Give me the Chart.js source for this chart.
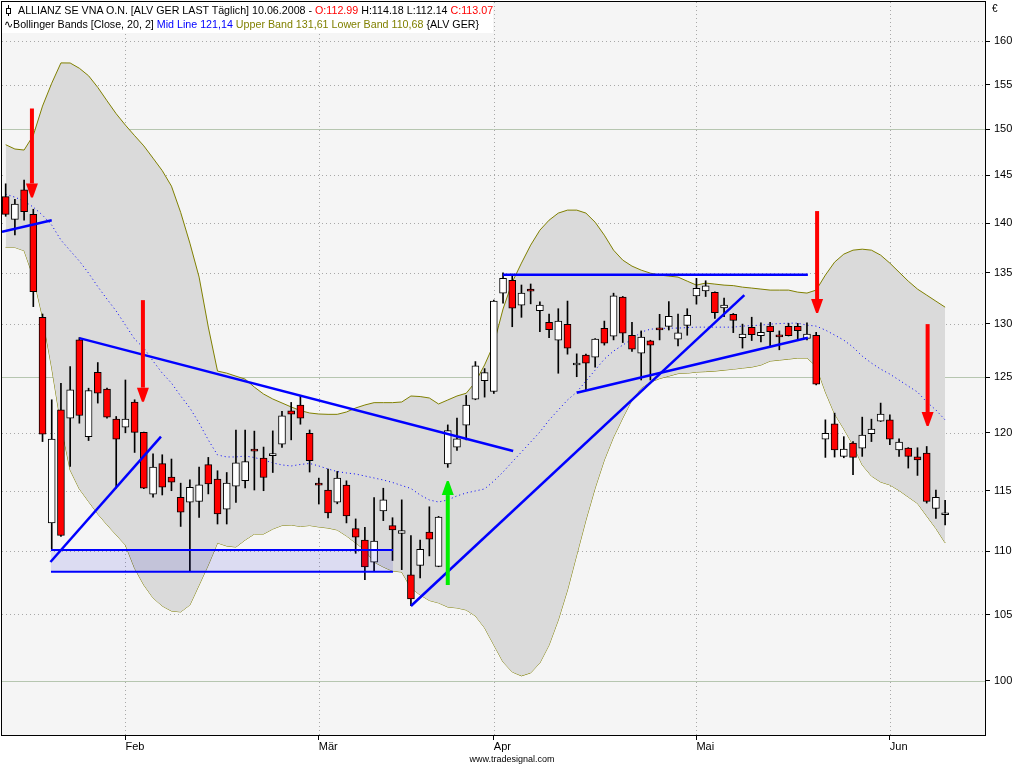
<!DOCTYPE html>
<html>
<head>
<meta charset="utf-8">
<script src="https://cdn.jsdelivr.net/npm/chart.js@4.4.1/dist/chart.umd.min.js"></script>
<style>
html, body { margin: 0; padding: 0; background: #fff; }
#wrap { position: relative; width: 1024px; height: 768px; overflow: hidden; }
#c { position: absolute; left: 0; top: 0; }
#hdr { position: absolute; left: 2px; top: 2px; width: 491px; height: 31px; background: #fff;
       font: 10.7px "Liberation Sans", Arial, sans-serif; line-height: 15px; white-space: nowrap; color: #000; }
#hdr .l1 { position: absolute; left: 16px; top: 1px; }
#hdr .l2 { position: absolute; left: 2px; top: 15px; }
#hdr .r { color: #ff0000; }
#hdr .b { color: #0000ff; }
#hdr .o { color: #808000; }
.ico { position: absolute; left: 3px; top: 3px; width: 7px; height: 11px; }
.ico:before { content: ""; position: absolute; left: 3px; top: 0; width: 1px; height: 11px; background: #000; }
.ico:after { content: ""; position: absolute; left: 1px; top: 3px; width: 3px; height: 4px; border: 1px solid #000; background: #fff; }
#eur { position: absolute; left: 992px; top: 3px; font: 10px "Liberation Sans", Arial, sans-serif; }
#foot { position: absolute; left: 0; width: 1024px; top: 754px; text-align: center;
        font: 9px "Liberation Sans", Arial, sans-serif; color: #000; }
</style>
</head>
<body>
<div id="wrap">
  <canvas id="c" width="1024" height="768"></canvas>
  <div id="hdr">
    <span class="ico"></span>
    <div class="l1">ALLIANZ SE VNA O.N. [ALV GER LAST Täglich] 10.06.2008 - <span class="r">O:112.99</span> H:114.18 L:112.14 <span class="r">C:113.07</span></div>
    <div class="l2">∿Bollinger Bands [Close, 20, 2] <span class="b">Mid Line 121,14</span> <span class="o">Upper Band 131,61 Lower Band 110,68</span> {ALV GER}</div>
  </div>
  <div id="eur">€</div>
  <div id="foot">www.tradesignal.com</div>
</div>
<script>
// daily candles, 15.01.2008 - 10.06.2008 (index = trading day)
const open = [
  142.75, 140.38, 143.45, 140.9, 130.63, 112.31, 122.05, 121.3, 128.48, 119.66,
  125.46, 123.91, 121.21, 120.5, 122.74, 120.04, 114.7, 117.31, 116.16, 114.45,
  114.04, 114.09, 117.22, 115.98, 113.46, 115.38, 115.86, 118.45, 117.8, 118.0,
  119.01, 121.96, 122.47, 119.96, 115.52, 115.06, 114.04, 115.47, 111.84, 110.9,
  109.12, 113.3, 112.09, 111.45, 108.1, 108.86, 111.56, 108.78, 117.28, 118.75,
  120.67, 123.01, 124.69, 123.7, 132.97, 134.23, 131.8, 133.36, 131.28, 130.15,
  128.46, 129.95, 126.13, 127.05, 126.86, 129.58, 128.83, 132.58, 128.92, 127.24,
  128.39, 129.47, 129.77, 128.55, 129.86, 132.7, 133.19, 133.06, 131.53, 130.92,
  128.7, 129.67, 128.89, 129.79, 128.81, 129.77, 129.77, 128.63, 128.92, 119.44,
  120.79, 117.94, 119.09, 118.66, 119.92, 121.03, 121.15, 118.49, 118.66, 117.91,
  118.23, 113.51, 112.99
];
const high = [
  144.1, 142.47, 144.5, 141.43, 130.95, 122.95, 124.45, 125.98, 128.7, 124.0,
  126.36, 124.0, 121.45, 124.75, 122.95, 120.07, 118.17, 118.08, 117.71, 115.64,
  115.92, 117.02, 117.85, 116.7, 116.55, 120.25, 120.25, 120.15, 118.75, 120.17,
  121.9, 122.71, 123.31, 120.25, 116.07, 116.85, 116.64, 115.84, 112.64, 111.94,
  114.42, 115.21, 112.74, 114.23, 111.26, 110.9, 113.65, 112.85, 120.7, 121.3,
  123.34, 126.45, 125.8, 132.3, 134.97, 134.84, 133.77, 133.87, 132.12, 130.95,
  131.46, 132.2, 127.17, 127.14, 128.6, 130.27, 132.97, 132.65, 130.15, 129.33,
  128.45, 130.92, 132.15, 130.95, 131.46, 134.43, 134.19, 133.1, 132.48, 131.0,
  129.98, 130.64, 130.11, 130.15, 129.33, 130.05, 130.05, 130.1, 129.2, 121.15,
  121.75, 119.66, 119.23, 121.39, 121.21, 122.65, 121.6, 119.46, 118.7, 118.69,
  118.8, 115.06, 114.18
];
const low = [
  140.7, 138.78, 140.3, 131.66, 119.23, 110.18, 111.2, 117.07, 120.85, 119.32,
  122.65, 121.3, 115.21, 120.0, 118.28, 115.17, 114.45, 114.64, 115.0, 112.02,
  108.38, 112.77, 114.73, 112.22, 112.22, 114.01, 115.23, 115.06, 115.0, 116.55,
  118.71, 119.38, 120.76, 116.59, 113.88, 112.72, 113.9, 112.31, 109.83, 107.73,
  108.44, 112.5, 109.25, 108.52, 105.68, 107.86, 109.62, 108.75, 116.99, 118.45,
  119.38, 122.95, 123.19, 123.52, 132.0, 129.73, 130.63, 131.93, 129.26, 128.7,
  125.37, 127.14, 125.05, 123.85, 125.93, 127.99, 128.48, 128.23, 127.39, 124.75,
  124.75, 128.48, 129.42, 127.92, 128.92, 131.9, 132.64, 130.53, 130.69, 129.17,
  127.71, 128.42, 128.3, 127.86, 127.55, 128.85, 128.58, 128.48, 124.3, 117.85,
  117.88, 117.82, 116.36, 117.94, 119.23, 121.0, 118.95, 117.94, 116.93, 116.3,
  113.96, 112.69, 112.14
];
const close = [
  140.9, 141.98, 141.17, 133.12, 119.87, 119.44, 111.28, 123.85, 121.54, 123.79,
  123.55, 121.39, 119.44, 121.21, 120.04, 115.21, 117.02, 115.29, 115.73, 113.21,
  115.29, 115.49, 115.58, 113.05, 115.64, 117.39, 117.48, 118.40, 116.12, 118.05,
  121.51, 121.66, 121.3, 117.56, 115.48, 113.13, 116.07, 112.88, 111.15, 108.73,
  110.82, 114.23, 111.73, 111.67, 106.21, 110.16, 110.98, 112.8, 120.19, 119.46,
  122.47, 126.05, 125.42, 132.19, 134.43, 131.51, 132.97, 133.16, 131.8, 129.45,
  130.27, 127.71, 126.31, 126.31, 128.55, 128.17, 132.7, 129.11, 127.61, 128.74,
  127.99, 129.43, 130.73, 129.14, 130.82, 133.45, 133.68, 131.08, 131.82, 130.34,
  129.04, 128.98, 129.2, 129.26, 128.77, 128.89, 129.35, 129.02, 124.36, 119.96,
  118.51, 118.58, 117.85, 119.81, 120.34, 121.66, 119.44, 119.18, 117.94, 117.63,
  114.09, 114.45, 113.07
];

// Bollinger Bands [Close, 20, 2]
const upperBand = [
  148.30, 147.83, 147.72, 149.33, 152.57, 155.16, 157.49, 157.48, 156.87, 156.01,
  154.68, 153.17, 151.71, 150.45, 149.29, 148.17, 146.84, 145.50, 143.85, 141.10,
  137.95, 134.55, 129.70, 125.57, 125.38, 125.10, 124.83, 124.10, 123.47, 123.02,
  122.66, 122.30, 121.98, 121.76, 121.67, 121.64, 121.64, 121.85, 122.21, 122.48,
  122.69, 122.69, 122.69, 122.75, 123.29, 123.24, 123.11, 122.57, 122.93, 123.29,
  123.54, 124.56, 126.14, 128.08, 131.43, 134.05, 135.94, 137.75, 139.27, 140.30,
  141.03, 141.34, 141.34, 141.03, 140.09, 138.76, 137.24, 136.24, 135.64, 135.24,
  134.94, 134.75, 134.65, 134.55, 134.15, 133.76, 133.96, 133.86, 133.76, 133.71,
  133.56, 133.47, 133.37, 133.27, 133.27, 133.27, 133.07, 132.98, 133.27, 134.75,
  136.04, 136.84, 137.24, 137.34, 137.24, 136.74, 135.94, 135.04, 134.15, 133.37,
  132.78, 132.19, 131.61
];
const midLine = [
  143.01, 142.69, 142.28, 141.65, 140.82, 139.79, 138.26, 137.19, 136.14, 134.94,
  133.61, 132.39, 131.23, 129.89, 128.56, 127.71, 126.50, 125.38, 124.47, 123.29,
  122.21, 120.87, 119.37, 118.06, 117.89, 117.89, 117.97, 117.84, 117.63, 117.37,
  117.20, 117.11, 117.24, 117.33, 117.11, 116.85, 116.63, 116.51, 116.42, 116.25,
  116.08, 115.91, 115.70, 115.44, 115.19, 114.64, 114.22, 114.05, 114.22, 114.56,
  114.81, 114.98, 115.15, 115.82, 116.59, 117.46, 118.32, 119.19, 120.07, 121.13,
  122.03, 122.93, 123.65, 124.65, 125.66, 126.68, 127.43, 127.99, 128.56, 129.22,
  129.50, 129.55, 129.60, 129.60, 129.65, 129.69, 129.69, 129.69, 129.69, 129.69,
  129.79, 129.84, 129.88, 129.98, 130.03, 130.07, 130.07, 129.88, 129.79, 129.41,
  128.94, 128.46, 127.80, 126.96, 126.31, 125.75, 125.29, 124.74, 124.19, 123.65,
  122.75, 122.03, 121.14
];
const lowerBand = [
  137.52, 137.52, 137.19, 134.55, 130.65, 125.85, 120.69, 116.76, 115.15, 114.09,
  113.05, 112.16, 111.32, 110.50, 108.62, 107.30, 106.29, 105.66, 105.27, 105.20,
  105.74, 107.30, 108.89, 110.67, 110.42, 110.34, 110.91, 111.40, 111.40, 111.81,
  112.10, 112.14, 112.02, 112.10, 111.98, 111.89, 111.73, 111.24, 110.67, 110.10,
  109.13, 108.73, 108.41, 108.33, 107.07, 106.52, 106.09, 105.90, 105.58, 105.51,
  105.35, 104.89, 103.97, 102.68, 101.40, 100.66, 100.37, 100.59, 101.33, 102.68,
  104.58, 106.91, 109.70, 112.55, 115.23, 117.63, 119.63, 121.31, 122.93, 124.01,
  124.56, 124.88, 125.11, 125.34, 125.38, 125.48, 125.52, 125.57, 125.66, 125.75,
  125.85, 125.94, 126.13, 126.50, 126.59, 126.68, 126.78, 126.78, 126.03, 123.65,
  121.67, 120.34, 118.93, 117.20, 116.25, 115.74, 115.49, 115.02, 114.47, 113.93,
  112.88, 111.85, 110.68
];

// axis ticks
const monthTicks = [13, 34, 53, 75, 96];
const monthNames = ['Feb', 'Mär', 'Apr', 'Mai', 'Jun'];
const priceTicks = [100, 105, 110, 115, 120, 125, 130, 135, 140, 145, 150, 155, 160];

// drawings: [x0, price0, x1, price1]
const trendLines = [
  [-0.4, 139.1, 5.0, 140.3],
  [4.86, 109.13, 16.86, 119.66],
  [8.0, 128.65, 55.1, 118.4],
  [44.0, 105.66, 80.2, 132.78],
  [62.0, 123.59, 87.1, 128.68],
  [54.0, 134.77, 87.1, 134.77]
];
const supportBox = { from: 4.92, to: 42.05, top: 110.10, bottom: 108.36 };
// [x, tail price, tip price]
const sellArrows = [[2.85, 152.3, 142.66], [14.9, 132.29, 122.78], [88.1, 141.24, 131.04], [100.1, 129.98, 120.6]];
const buyArrows = [[48.0, 107.3, 115.82]];

const idx = open.map((_, i) => i);
const line = (vals) => vals.map((v, i) => ({ x: i, y: v }));

const datasets = [];
trendLines.forEach(t => datasets.push({
  type: 'line', order: 1, data: [{ x: t[0], y: t[1] }, { x: t[2], y: t[3] }],
  borderColor: '#0000ff', borderWidth: 2.5, pointRadius: 0, fill: false
}));
datasets.push({
  type: 'line', order: 1, data: [{ x: supportBox.from, y: supportBox.top }, { x: supportBox.to, y: supportBox.top }],
  borderColor: '#0000ff', borderWidth: 2, pointRadius: 0, fill: '+1', backgroundColor: 'rgba(0,0,220,0.10)'
});
datasets.push({
  type: 'line', order: 1, data: [{ x: supportBox.from, y: supportBox.bottom }, { x: supportBox.to, y: supportBox.bottom }],
  borderColor: '#0000ff', borderWidth: 2, pointRadius: 0, fill: false
});
datasets.push({
  type: 'bar', order: 2, grouped: false, barThickness: 7, minBarLength: 2,
  data: idx.map(i => ({ x: i, y: [open[i], close[i]] })),
  backgroundColor: idx.map(i => close[i] >= open[i] ? '#ffffff' : '#ff0000'),
  borderColor: '#000000', borderWidth: 1, borderSkipped: false
});
datasets.push({
  type: 'bar', order: 3, grouped: false, barThickness: 1,
  data: idx.map(i => ({ x: i, y: [low[i], high[i]] })),
  backgroundColor: '#000000', borderWidth: 0
});
datasets.push({
  type: 'line', order: 4, data: line(midLine),
  borderColor: '#0000ff', borderWidth: 1, borderDash: [1, 3], pointRadius: 0, fill: false
});
const upperIndex = datasets.length;
datasets.push({
  type: 'line', order: 5, data: line(upperBand),
  borderColor: '#808000', borderWidth: 1, pointRadius: 0,
  fill: { target: upperIndex + 1 }, backgroundColor: '#dadada'
});
datasets.push({
  type: 'line', order: 5, data: line(lowerBand),
  borderColor: '#808000', borderWidth: 1, pointRadius: 0, fill: false
});

function arrow(ctx, x, yTail, yTip, color, shaft, head, headLen) {
  const dir = yTip > yTail ? 1 : -1;
  const yBase = yTip - dir * headLen;
  ctx.fillStyle = color;
  ctx.fillRect(x - shaft / 2, Math.min(yTail, yBase), shaft, Math.abs(yBase - yTail));
  ctx.beginPath();
  ctx.moveTo(x - head / 2, yBase);
  ctx.lineTo(x + head / 2, yBase);
  ctx.lineTo(x + 1, yTip);
  ctx.lineTo(x - 1, yTip);
  ctx.closePath();
  ctx.fill();
}

const backdrop = {
  id: 'backdrop',
  beforeDraw(chart) {
    const { ctx, chartArea: a, scales: { x, y } } = chart;
    ctx.save();
    ctx.fillStyle = '#f5f5f5';
    ctx.fillRect(a.left, a.top, a.right - a.left, a.bottom - a.top);
    ctx.lineWidth = 1;
    priceTicks.forEach(v => {
      const py = Math.round(y.getPixelForValue(v)) + 0.5;
      ctx.beginPath();
      if (v % 25 === 0) { ctx.setLineDash([]); ctx.strokeStyle = '#b6c6b0'; }
      else { ctx.setLineDash([1, 3]); ctx.strokeStyle = '#a8a8a8'; }
      ctx.moveTo(a.left, py); ctx.lineTo(a.right, py); ctx.stroke();
    });
    ctx.setLineDash([1, 3]);
    ctx.strokeStyle = '#a8a8a8';
    monthTicks.forEach(v => {
      const px = Math.round(x.getPixelForValue(v)) + 0.5;
      ctx.beginPath(); ctx.moveTo(px, a.top); ctx.lineTo(px, a.bottom); ctx.stroke();
    });
    ctx.restore();
  },
  afterDraw(chart) {
    const { ctx, chartArea: a, scales: { x, y } } = chart;
    ctx.save();
    sellArrows.forEach(r => arrow(ctx, x.getPixelForValue(r[0]), y.getPixelForValue(r[1]), y.getPixelForValue(r[2]), '#ff0000', 4, 12, 14));
    buyArrows.forEach(r => arrow(ctx, x.getPixelForValue(r[0]), y.getPixelForValue(r[1]), y.getPixelForValue(r[2]), '#00ee00', 4, 12, 14));
    ctx.strokeStyle = '#000';
    ctx.lineWidth = 1;
    ctx.strokeRect(a.left - 0.5, a.top - 0.5, a.right - a.left + 1, a.bottom - a.top + 1);
    ctx.restore();
  }
};

new Chart(document.getElementById('c').getContext('2d'), {
  type: 'bar',
  data: { datasets },
  plugins: [backdrop],
  options: {
    responsive: false,
    devicePixelRatio: 1,
    animation: false,
    events: [],
    layout: { padding: { left: 2, top: 2, right: 0, bottom: 0 } },
    plugins: { legend: { display: false }, tooltip: { enabled: false } },
    scales: {
      x: {
        type: 'linear', min: -0.4, max: 106.33, offset: false,
        afterBuildTicks: s => { s.ticks = monthTicks.map(v => ({ value: v })); },
        afterFit: s => { s.height = 33; s.paddingLeft = 0; s.paddingRight = 0; },
        grid: { offset: false, drawOnChartArea: false, drawTicks: true, tickLength: 5, tickColor: '#000' },
        border: { display: true, color: '#000' },
        ticks: {
          autoSkip: false, maxRotation: 0, align: 'start', padding: 0, color: '#000',
          font: { family: 'Liberation Sans', size: 11 },
          callback: (v, i) => monthNames[i]
        }
      },
      y: {
        type: 'logarithmic', position: 'right', min: 96.1, max: 164.7,
        afterBuildTicks: s => { s.ticks = priceTicks.map(v => ({ value: v })); },
        afterFit: s => { s.width = 39; s.paddingTop = 0; s.paddingBottom = 0; },
        grid: { drawOnChartArea: false, drawTicks: true, tickLength: 5, tickColor: '#000' },
        border: { display: true, color: '#000' },
        ticks: {
          autoSkip: false, padding: 4, color: '#000',
          font: { family: 'Liberation Sans', size: 11 },
          callback: v => String(v)
        }
      }
    }
  }
});
</script>
</body>
</html>
